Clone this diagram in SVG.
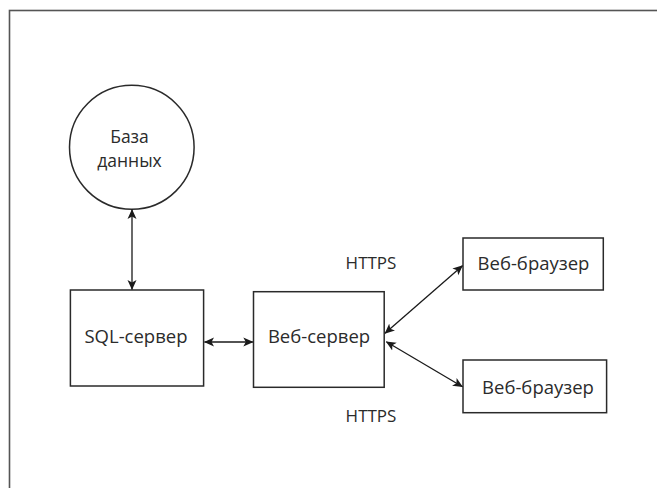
<svg xmlns="http://www.w3.org/2000/svg" width="657" height="488" viewBox="0 0 657 488">
<style>
.frame{fill:none;stroke:#555;stroke-width:1.6}
.box{fill:#fff;stroke:#2a2a2a;stroke-width:1.5}
.lbl{font-family:"Open Sans","DejaVu Sans",sans-serif;font-size:18.5px;fill:#2b2b2b;text-anchor:middle}
.dbl{font-family:"Open Sans","DejaVu Sans",sans-serif;font-size:17.5px;fill:#2b2b2b;text-anchor:middle}
.proto{font-family:"Open Sans","DejaVu Sans",sans-serif;font-size:17px;fill:#2b2b2b;text-anchor:middle}
.conn{stroke:#1a1a1a;stroke-width:1.3;fill:none;marker-start:url(#ah);marker-end:url(#ah)}
</style>
<defs>
<marker id="ah" viewBox="0 0 10 10" refX="9.5" refY="5" markerWidth="10" markerHeight="10" markerUnits="userSpaceOnUse" orient="auto-start-reverse">
<path d="M0,0.5 L10,5 L0,9.5 L2.5,5 z" fill="#1a1a1a"/>
</marker>
</defs>
<rect class="frame" x="9.5" y="10.5" width="700" height="700"/>
<g id="db">
<ellipse class="box" cx="131.8" cy="147.3" rx="62.3" ry="62"/>
<text class="dbl" x="129.5" y="143">База</text>
<text class="dbl" x="129.5" y="167.2">данных</text>
</g>
<g id="sql">
<rect class="box" x="70.4" y="290" width="133.2" height="96"/>
<text class="lbl" x="136" y="343">SQL-сервер</text>
</g>
<g id="web">
<rect class="box" x="253.5" y="291.7" width="130.7" height="95.6"/>
<text class="lbl" x="319" y="343">Веб-сервер</text>
</g>
<g id="browser1">
<rect class="box" x="463" y="238" width="140.3" height="52"/>
<text class="lbl" x="533.5" y="270">Веб-браузер</text>
</g>
<g id="browser2">
<rect class="box" x="463" y="360" width="143.6" height="52.7"/>
<text class="lbl" x="538" y="393.5">Веб-браузер</text>
</g>
<g id="labels">
<text class="proto" x="371" y="269.3">HTTPS</text>
<text class="proto" x="371" y="422">HTTPS</text>
</g>
<g id="connectors">
<line class="conn" x1="132" y1="209.5" x2="132" y2="289.5"/>
<line class="conn" x1="204.5" y1="342" x2="252.8" y2="342"/>
<line class="conn" x1="385" y1="333.3" x2="462.5" y2="265.7"/>
<line class="conn" x1="386.3" y1="341.7" x2="462.5" y2="386.7"/>
</g>
</svg>
